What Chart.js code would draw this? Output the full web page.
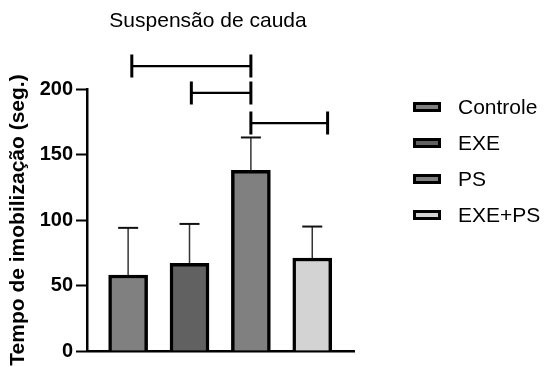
<!DOCTYPE html>
<html>
<head>
<meta charset="utf-8">
<script src="https://cdn.jsdelivr.net/npm/chart.js@4/dist/chart.umd.min.js"></script>
<style>
  html, body { margin: 0; padding: 0; background: #fff; }
  #wrap { width: 546px; height: 367px; }
</style>
</head>
<body>
<div id="wrap"><canvas id="c" width="546" height="367"></canvas></div>
<script>
// Groups and their mean immobility time (s) with upper error (s)
const groups = ['Controle', 'EXE', 'PS', 'EXE+PS'];
const means = [58, 67, 138, 71];
const errors = [36, 30, 25, 24];
const fills = ['#808080', '#616161', '#808080', '#d3d3d3'];
const yTicks = [0, 50, 100, 150, 200];

// Significance brackets: start / end position (group index) and height (s)
const bracketFrom = [0.06, 1.03, 2.0];
const bracketTo = [2.0, 2.0, 3.25];
const bracketLevel = [217.5, 197, 174];

const FONT = "'Liberation Sans', Arial, Helvetica, sans-serif";

const extras = {
  id: 'extras',
  afterDatasetsDraw(chart) {
    const {ctx} = chart;
    const x = chart.scales.x, y = chart.scales.y;
    ctx.save();
    // error bars (upper only)
    groups.forEach((g, i) => {
      const px = x.getPixelForValue(i);
      const y0 = y.getPixelForValue(means[i]);
      const y1 = y.getPixelForValue(means[i] + errors[i]);
      ctx.strokeStyle = '#333';
      ctx.lineWidth = 1.5;
      ctx.beginPath(); ctx.moveTo(px, y0); ctx.lineTo(px, y1); ctx.stroke();
      ctx.strokeStyle = '#111';
      ctx.lineWidth = 2;
      ctx.beginPath(); ctx.moveTo(px - 10, y1); ctx.lineTo(px + 10, y1); ctx.stroke();
    });
    ctx.restore();
  },
  afterDraw(chart) {
    const {ctx} = chart;
    const x = chart.scales.x, y = chart.scales.y;
    ctx.save();
    // comparison brackets
    ctx.strokeStyle = '#000';
    bracketLevel.forEach((lv, i) => {
      const xa = x.getPixelForValue(bracketFrom[i]);
      const xb = x.getPixelForValue(bracketTo[i]);
      const py = y.getPixelForValue(lv);
      ctx.lineWidth = 2.2;
      ctx.beginPath(); ctx.moveTo(xa, py); ctx.lineTo(xb, py); ctx.stroke();
      ctx.lineWidth = 3;
      ctx.beginPath();
      ctx.moveTo(xa, py - 11.5); ctx.lineTo(xa, py + 11.5);
      ctx.moveTo(xb, py - 11.5); ctx.lineTo(xb, py + 11.5);
      ctx.stroke();
    });
    // title
    ctx.fillStyle = '#000';
    ctx.font = '21px ' + FONT;
    ctx.textAlign = 'center';
    ctx.textBaseline = 'middle';
    ctx.fillText('Suspensão de cauda', 208, 21);
    // legend
    ctx.textAlign = 'left';
    groups.forEach((g, i) => {
      const cy = 107 + i * 36;
      ctx.fillStyle = fills[i];
      ctx.fillRect(413, cy - 5, 28, 10);
      ctx.strokeStyle = '#000';
      ctx.lineWidth = 3;
      ctx.strokeRect(414.5, cy - 3.5, 25, 7);
      ctx.fillStyle = '#000';
      ctx.fillText(g, 458, cy + 1);
    });
    ctx.restore();
  }
};

new Chart(document.getElementById('c'), {
  type: 'bar',
  data: {
    datasets: groups.map((g, i) => ({
      label: g,
      data: [{x: i, y: means[i]}],
      backgroundColor: fills[i],
      borderColor: '#000',
      borderWidth: 3.5,
      barThickness: 39,
      grouped: false
    }))
  },
  options: {
    responsive: false,
    animation: false,
    layout: { padding: { left: 0, right: 192, top: 89, bottom: 0 } },
    plugins: {
      legend: { display: false },
      title: { display: false },
      tooltip: { enabled: false }
    },
    scales: {
      x: {
        type: 'linear',
        min: -0.67,
        max: 3.68,
        offset: false,
        grid: { display: false },
        ticks: { display: false },
        border: { display: true, color: '#000', width: 2.5 },
        afterFit(s) { s.height = 16; }
      },
      y: {
        min: 0,
        max: 200,
        afterBuildTicks(s) { s.ticks = yTicks.map(v => ({value: v})); },
        grid: {
          drawOnChartArea: false,
          drawTicks: true,
          tickLength: 11,
          tickWidth: 2,
          tickColor: '#000'
        },
        border: { display: true, color: '#000', width: 2.5 },
        ticks: {
          color: '#000',
          padding: 3,
          font: { family: FONT, size: 20, weight: 'bold' }
        },
        title: {
          display: true,
          text: 'Tempo de imobilização (seg.)',
          color: '#000',
          font: { family: FONT, size: 21, weight: 'bold' },
          padding: { top: 6, bottom: 0 }
        },
        afterFit(s) { s.width = 87; }
      }
    }
  },
  plugins: [extras]
});
</script>
</body>
</html>
